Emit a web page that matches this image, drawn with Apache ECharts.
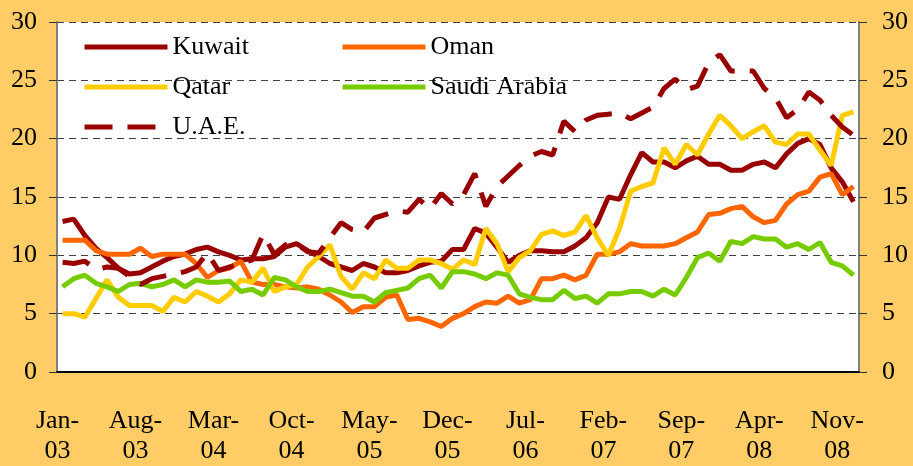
<!DOCTYPE html>
<html>
<head>
<meta charset="utf-8">
<script src="https://cdn.jsdelivr.net/npm/echarts@6/dist/echarts.min.js"></script>
<style>
    html, body { margin: 0; padding: 0; background: #FFCC66; }
    #chart { width: 913px; height: 466px; }
</style>
</head>
<body>
<div id="chart"></div>
<script>
// Monthly categories, Jan-03 .. Dec-08
var monthNames = ['Jan', 'Feb', 'Mar', 'Apr', 'May', 'Jun', 'Jul', 'Aug', 'Sep', 'Oct', 'Nov', 'Dec'];
var years = ['03', '04', '05', '06', '07', '08'];
var categories = [];
years.forEach(function (y) {
    monthNames.forEach(function (m) {
        categories.push(m + '-' + y);
    });
});

var kuwait = [
    12.9, 13.1, 11.7, 10.6, 9.8, 8.9, 8.4, 8.5, 9.0, 9.5, 9.9, 10.1,
    10.5, 10.7, 10.3, 10.0, 9.6, 9.7, 9.7, 9.9, 10.7, 11.0, 10.4, 9.9,
    9.3, 9.0, 8.7, 9.3, 9.0, 8.5, 8.5, 8.7, 9.1, 9.4, 9.5, 10.5,
    10.5, 12.3, 11.9, 10.7, 9.4, 10.0, 10.4, 10.4, 10.3, 10.3, 10.8, 11.5,
    12.8, 15.0, 14.8, 16.9, 18.8, 18.0, 18.0, 17.5, 18.1, 18.5, 17.8, 17.8,
    17.3, 17.3, 17.8, 18.0, 17.5, 18.7, 19.6, 20.0, 19.5, 17.5, 16.3, 14.6
];
var oman = [
    11.3, 11.3, 11.3, 10.4, 10.1, 10.1, 10.1, 10.6, 9.9, 10.1, 10.1, 10.1,
    9.3, 8.1, 8.7, 8.9, 9.5, 7.7, 7.5, 7.5, 7.3, 7.2, 7.3, 7.1,
    6.6, 6.0, 5.1, 5.6, 5.6, 6.4, 6.6, 4.5, 4.6, 4.3, 3.9, 4.6,
    5.0, 5.6, 6.0, 5.9, 6.5, 5.9, 6.2, 8.0, 8.0, 8.3, 7.9, 8.3,
    10.1, 10.1, 10.3, 11.0, 10.8, 10.8, 10.8, 11.0, 11.5, 12.0, 13.5, 13.6,
    14.0, 14.2, 13.3, 12.8, 13.0, 14.4, 15.2, 15.5, 16.7, 17.0, 15.2, 15.9
];
var qatar = [
    5.0, 5.0, 4.7, 6.3, 7.9, 6.4, 5.7, 5.7, 5.7, 5.2, 6.4, 6.0,
    6.9, 6.5, 6.0, 6.7, 7.9, 7.7, 8.9, 6.9, 7.3, 7.5, 9.0, 9.9,
    10.9, 8.2, 7.1, 8.5, 8.0, 9.6, 8.9, 8.9, 9.6, 9.6, 9.3, 8.8,
    9.6, 9.2, 12.3, 11.0, 8.6, 9.8, 10.4, 11.8, 12.1, 11.7, 12.0, 13.4,
    11.5, 10.0, 12.3, 15.5, 15.9, 16.2, 19.2, 17.8, 19.5, 18.6, 20.4, 22.0,
    21.1, 20.0, 20.6, 21.1, 19.7, 19.5, 20.4, 20.4, 19.0, 17.7, 22.0, 22.3
];
var saudi = [
    7.3, 8.0, 8.3, 7.6, 7.3, 6.9, 7.5, 7.6, 7.3, 7.5, 7.9, 7.3,
    7.9, 7.7, 7.7, 7.8, 6.9, 7.1, 6.6, 8.1, 7.9, 7.3, 6.9, 6.9,
    7.1, 6.8, 6.5, 6.5, 6.0, 6.8, 7.0, 7.2, 8.0, 8.3, 7.2, 8.6,
    8.6, 8.4, 8.0, 8.5, 8.3, 6.7, 6.4, 6.2, 6.2, 7.0, 6.3, 6.5,
    5.9, 6.7, 6.7, 6.9, 6.9, 6.5, 7.1, 6.6, 8.1, 9.8, 10.2, 9.5,
    11.2, 11.0, 11.6, 11.4, 11.4, 10.7, 11.0, 10.5, 11.1, 9.4, 9.1, 8.3
];
var uae = [
    9.4, 9.3, 9.5, 8.8, 9.0, 8.9, 8.2, 7.5, 8.0, 8.2, 8.4, 8.6,
    9.0, 10.2, 8.7, 9.0, 9.3, 9.6, 11.8, 10.1, 10.9, 11.0, 10.3, 10.2,
    11.5, 12.8, 12.2, 12.0, 13.2, 13.5, 13.8, 13.7, 14.8, 14.0, 15.3, 14.4,
    15.2, 17.0, 14.2, 15.9, 16.8, 17.7, 18.5, 18.9, 18.6, 21.5, 20.6, 21.6,
    22.0, 22.1, 22.2, 21.7, 22.2, 22.7, 24.3, 25.1, 24.2, 24.5, 26.5, 27.2,
    25.8, 25.8, 25.8, 24.3, 23.5, 21.8, 22.5, 24.0, 23.3, 22.0, 21.0, 20.3
];

var yTicks = [0, 5, 10, 15, 20, 25, 30];

var font = '"Liberation Serif", "DejaVu Serif", serif';
var chart = echarts.init(document.getElementById('chart'));

function lineSeries(name, data, color, dash) {
    return {
        name: name,
        type: 'line',
        data: data,
        symbol: 'none',
        lineStyle: {
            color: color,
            width: 5,
            type: dash || 'solid'
        },
        itemStyle: { color: color }
    };
}

// Legend columns share the same look
function legendColumn(left, names) {
    return {
        orient: 'vertical',
        left: left,
        top: 32,
        padding: 0,
        itemWidth: 83,
        itemHeight: 10,
        itemGap: 10,
        data: names,
        itemStyle: { opacity: 0 },
        lineStyle: { width: 5 },
        textStyle: { fontFamily: font, fontSize: 26, lineHeight: 30, color: '#000' }
    };
}

chart.setOption({
    animation: false,
    backgroundColor: '#FFCC66',

    textStyle: {
        fontFamily: font
    },

    grid: {
        left: 57,
        right: 54,
        top: 22,
        bottom: 94,
        show: true,
        backgroundColor: '#FFFFFF',
        borderWidth: 0
    },

    legend: [
        legendColumn(82, ['Kuwait', 'Qatar', 'U.A.E.']),
        legendColumn(340, ['Oman', 'Saudi Arabia'])
    ],

    xAxis: {
        type: 'category',
        data: categories,
        boundaryGap: true,
        axisLine: { lineStyle: { color: '#000', width: 2 } },
        axisTick: {
            inside: true,
            length: 8,
            interval: 6,
            lineStyle: { color: '#000', width: 2 }
        },
        axisLabel: {
            interval: 6,
            margin: 34,
            padding: [0, 10, 0, 0],
            color: '#000',
            fontFamily: font,
            fontSize: 26,
            lineHeight: 30,
            formatter: function (v) {
                var p = v.split('-');
                return p[0] + '-\n' + p[1];
            }
        }
    },

    yAxis: [{
        type: 'value',
        min: yTicks[0],
        max: yTicks[yTicks.length - 1],
        interval: 5,
        position: 'left',
        axisLine: { show: true, lineStyle: { color: '#808080', width: 2 } },
        axisTick: { show: true, length: 8, lineStyle: { color: '#333' } },
        axisLabel: { margin: 20, color: '#000', fontFamily: font, fontSize: 26 },
        splitLine: {
            show: true,
            lineStyle: { color: '#404040', width: 1, type: [7, 5] }
        }
    }, {
        type: 'value',
        min: yTicks[0],
        max: yTicks[yTicks.length - 1],
        interval: 5,
        position: 'right',
        axisLine: { show: true, lineStyle: { color: '#808080', width: 2 } },
        axisTick: { show: true, length: 8, lineStyle: { color: '#333' } },
        axisLabel: { margin: 23, color: '#000', fontFamily: font, fontSize: 26 },
        splitLine: { show: false }
    }],

    series: [
        lineSeries('Kuwait', kuwait, '#990000'),
        lineSeries('Oman', oman, '#FF6600'),
        lineSeries('Qatar', qatar, '#FFCC00'),
        lineSeries('Saudi Arabia', saudi, '#77CC00'),
        lineSeries('U.A.E.', uae, '#990000', [28, 15])
    ]
});
</script>
</body>
</html>
